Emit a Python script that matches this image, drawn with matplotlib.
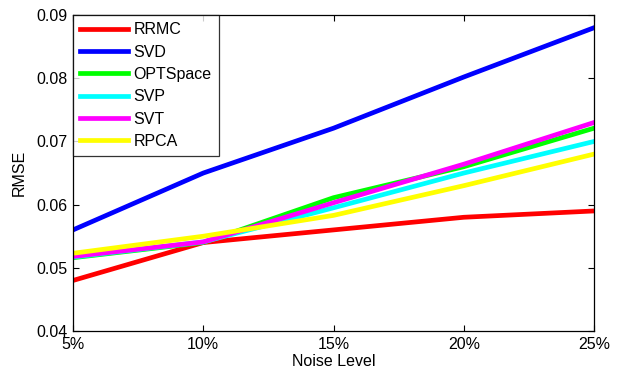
import matplotlib
matplotlib.use("Agg")
import matplotlib.pyplot as plt

noise_labels = ["5%", "10%", "15%", "20%", "25%"]
noise = [5, 10, 15, 20, 25]

rrmc = [0.0480, 0.0540, 0.0560, 0.0580, 0.0590]
svd = [0.0560, 0.0650, 0.0721, 0.0802, 0.0880]
optspace = [0.0516, 0.0540, 0.0611, 0.0660, 0.0721]
svp = [0.0517, 0.0541, 0.0595, 0.0650, 0.0700]
svt = [0.0518, 0.0541, 0.0603, 0.0664, 0.0730]
rpca = [0.0523, 0.0550, 0.0583, 0.0630, 0.0680]

series = [
    ("RRMC", rrmc, "#ff0000"),
    ("SVD", svd, "#0000ff"),
    ("OPTSpace", optspace, "#00ff00"),
    ("SVP", svp, "#00ffff"),
    ("SVT", svt, "#ff00ff"),
    ("RPCA", rpca, "#ffff00"),
]

plt.rcParams['font.family'] = ['Liberation Sans', 'DejaVu Sans']

fig = plt.figure(figsize=(6.21, 3.77), dpi=100)
ax = fig.add_axes([0.1176, 0.122, 0.839, 0.838])

for name, vals, col in series:
    ax.plot(noise, vals, color=col, linewidth=3.4, label=name)

ax.set_xlim(5, 25)
ax.set_ylim(0.04, 0.09)
ax.set_xticks(noise)
ax.set_xticklabels(noise_labels)
ax.set_yticks([0.04, 0.05, 0.06, 0.07, 0.08, 0.09])
ax.set_yticklabels(["0.04", "0.05", "0.06", "0.07", "0.08", "0.09"])
ax.tick_params(direction="in", top=True, right=True, labelsize=11.5, length=4, width=0.8, pad=4)
for s in ax.spines.values():
    s.set_linewidth(0.9)

ax.set_xlabel("Noise Level", fontsize=11.5, labelpad=2)
ax.set_ylabel("RMSE", fontsize=11.5, labelpad=7)

leg = ax.legend(loc="upper left", fontsize=11.5, frameon=True, fancybox=False,
                edgecolor="black", handlelength=3.0, handletextpad=0.35,
                borderaxespad=0.0, labelspacing=0.46, borderpad=0.45)
leg.get_frame().set_linewidth(0.9)

fig.savefig("out.png", dpi=100)
